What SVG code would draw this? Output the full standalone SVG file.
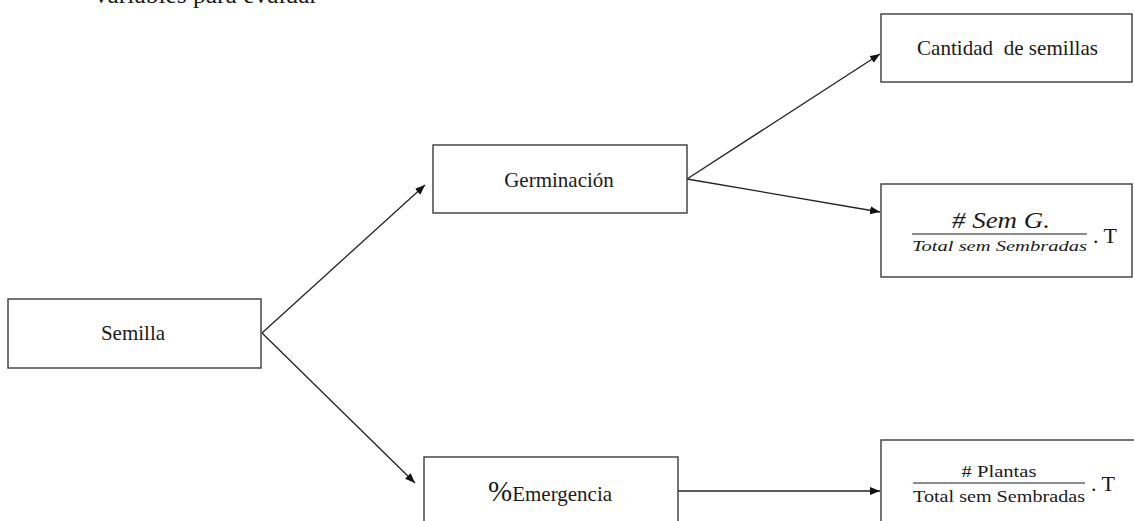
<svg xmlns="http://www.w3.org/2000/svg" width="1134" height="521" viewBox="0 0 1134 521">
<style>
.box{fill:#fff;stroke:#3a3a3a;stroke-width:1.4}
.t{font-family:"Liberation Serif","Times New Roman",serif;font-size:21px;fill:#1a1a1a}
.m{font-family:"Liberation Serif","Times New Roman",serif;fill:#1a1a1a}
.c{stroke:#222;stroke-width:1.3;fill:none;marker-end:url(#ah)}
</style>
<defs>
<marker id="ah" markerUnits="userSpaceOnUse" markerWidth="11" markerHeight="9" refX="10" refY="4" orient="auto">
<path d="M0,0 L10,4 L0,8 z" fill="#111"/>
</marker>
</defs>
<rect width="1134" height="521" fill="#fff"/>
<text class="t" x="92" y="3" style="font-size:24px" textLength="226" lengthAdjust="spacingAndGlyphs">Variables para evaluar</text>

<g id="connectors">
<line class="c" x1="262" y1="333" x2="425" y2="185"/>
<line class="c" x1="262" y1="333" x2="415" y2="483"/>
<line class="c" x1="687" y1="179" x2="880" y2="54"/>
<line class="c" x1="687" y1="179" x2="880" y2="212"/>
<line class="c" x1="678" y1="491" x2="880" y2="491"/>
</g>

<g id="semilla">
<rect class="box" x="8" y="299" width="253" height="69"/>
<text class="t" x="133" y="340" text-anchor="middle">Semilla</text>
</g>

<g id="germinacion">
<rect class="box" x="433" y="145" width="254" height="68"/>
<text class="t" x="559" y="187" text-anchor="middle">Germinación</text>
</g>

<g id="emergencia">
<rect class="box" x="424" y="457" width="254" height="80"/>
<text class="t" x="488" y="501"><tspan style="font-size:29px">%</tspan>Emergencia</text>
</g>

<g id="cantidad">
<rect class="box" x="881" y="14" width="251" height="68"/>
<text class="t" x="917" y="55" textLength="181" xml:space="preserve">Cantidad  de semillas</text>
</g>

<g id="formula-germinacion">
<rect class="box" x="881" y="184" width="251" height="93"/>
<text class="m" x="1001" y="228" text-anchor="middle" style="font-size:24px;font-style:italic" textLength="98" lengthAdjust="spacingAndGlyphs"># Sem G.</text>
<line x1="912" y1="234" x2="1087" y2="234" stroke="#1a1a1a" stroke-width="1.2"/>
<text class="m" x="912" y="251" style="font-size:15px;font-style:italic" textLength="175" lengthAdjust="spacingAndGlyphs">Total sem Sembradas</text>
<text class="m" x="1093" y="243" style="font-size:22px">. T</text>
</g>

<g id="formula-emergencia">
<rect class="box" x="881" y="440" width="260" height="100"/>
<text class="m" x="999" y="477" text-anchor="middle" style="font-size:17px" textLength="75" lengthAdjust="spacingAndGlyphs"># Plantas</text>
<line x1="913" y1="483" x2="1085" y2="483" stroke="#1a1a1a" stroke-width="1.2"/>
<text class="m" x="913" y="502" style="font-size:17px" textLength="172" lengthAdjust="spacingAndGlyphs">Total sem Sembradas</text>
<text class="m" x="1091" y="491" style="font-size:22px">. T</text>
</g>
</svg>
